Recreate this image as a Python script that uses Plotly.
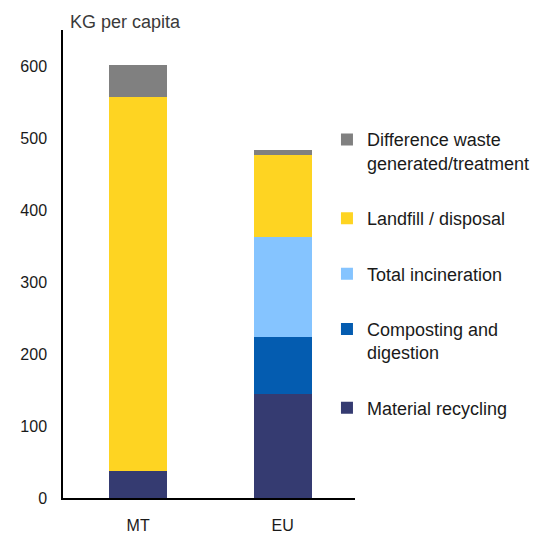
import plotly.graph_objects as go

categories = ["MT", "EU"]
series_names = [
    "Material recycling",
    "Composting and<br>digestion",
    "Total incineration",
    "Landfill / disposal",
    "Difference waste<br>generated/treatment",
]
material_recycling = [38, 144]
composting = [0, 80]
incineration = [0, 138]
landfill = [519, 115]
difference = [44, 7]
colors = ["#353B71", "#045CB0", "#85C4FF", "#FED422", "#808080"]
y_ticks = [0, 100, 200, 300, 400, 500, 600]

values = [material_recycling, composting, incineration, landfill, difference]

FONT = "Liberation Sans, Arial, sans-serif"

fig = go.Figure()
n = len(series_names)
for i, (name, vals, col) in enumerate(zip(series_names, values, colors)):
    fig.add_trace(go.Bar(
        x=categories, y=vals, name=name, marker_color=col,
        marker_line_width=0, width=0.4, legendgroup=str(i),
        legendrank=n - i,
    ))

fig.update_layout(
    barmode="stack",
    width=543, height=534,
    margin=dict(l=63, r=188, t=30, b=36, autoexpand=False),
    plot_bgcolor="white", paper_bgcolor="white",
    font=dict(family=FONT, size=16, color="#1a1a1a"),
    showlegend=True,
    legend=dict(
        traceorder="grouped",
        x=0.904, xanchor="left", y=0.805, yanchor="top",
        valign="top",
        font=dict(family=FONT, size=18, color="#1a1a1a"),
        tracegroupgap=29,
        itemwidth=30,
        bgcolor="rgba(0,0,0,0)",
    ),
    xaxis=dict(
        range=[-0.52, 1.5], showline=True, linecolor="black", linewidth=1.5,
        ticks="outside", ticklen=12, tickcolor="rgba(0,0,0,0)",
        showgrid=False, zeroline=False, tickfont=dict(size=16),
        automargin=False,
    ),
    yaxis=dict(
        range=[0, 650], tickvals=y_ticks, showline=True, linecolor="black",
        linewidth=1.5, ticks="outside", ticklen=11, tickcolor="rgba(0,0,0,0)",
        showgrid=False, zeroline=False, tickfont=dict(size=16),
        automargin=False,
    ),
    annotations=[dict(
        text="KG per capita", xref="paper", yref="paper", x=0, y=1.017,
        xanchor="left", yanchor="middle", xshift=5, showarrow=False,
        font=dict(family=FONT, size=18, color="#3a3a3a"),
    )],
)

fig.write_html(
    "out.html",
    config={"displayModeBar": False},
    post_script="document.body.style.margin='0';",
)
